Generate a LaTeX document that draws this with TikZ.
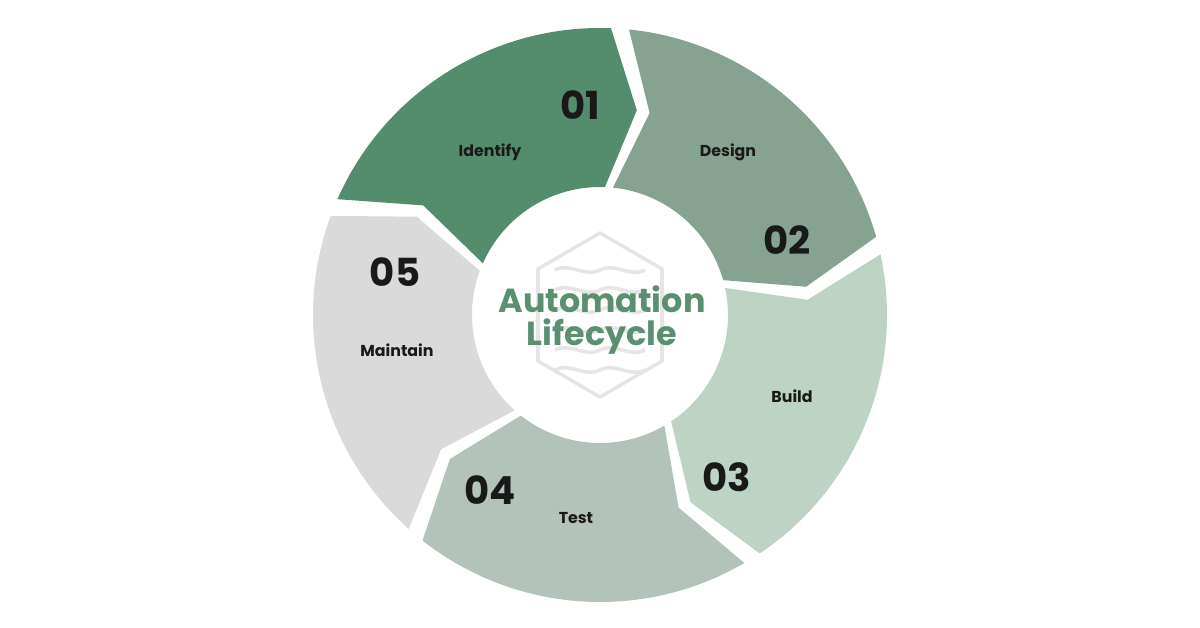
\documentclass[tikz,border=0pt]{standalone}
\usepackage{fontspec}
\setmainfont{Poppins}
\usetikzlibrary{positioning}
\definecolor{segA}{HTML}{548C6E}
\definecolor{segB}{HTML}{86A392}
\definecolor{segC}{HTML}{BDD3C4}
\definecolor{segD}{HTML}{B3C3BA}
\definecolor{segE}{HTML}{DADADA}
\definecolor{titlegreen}{HTML}{5A8F70}
\begin{document}
\begin{tikzpicture}[x=0.02cm, y=0.02cm,
numlabel/.style={font=\fontsize{22}{24}\selectfont\bfseries, text=black!90},
steplabel/.style={font=\fontsize{9}{11}\selectfont\bfseries, text=black!90},
titlelabel/.style={font=\fontsize{19}{21}\selectfont\bfseries, text=titlegreen, align=center}]
\useasboundingbox (-600,-313) rectangle (600,315);

% segments of the cycle
\foreach \a/\col in {158/segA, 86/segB, 14/segC, -58/segD, -130/segE}{
  \pgfmathsetmacro{\s}{\a-1.8}
  \pgfmathsetmacro{\e}{\a-72+1.8}
  \pgfmathsetmacro{\sn}{\a-1.8-8}
  \pgfmathsetmacro{\et}{\a-72+1.8-8}
  \fill[\col] (\s:287) arc[start angle=\s, end angle=\e, radius=287]
    -- (\et:208) -- (\e:128) arc[start angle=\e, end angle=\s, radius=128]
    -- (\sn:208) -- cycle;
}

% faint logo behind the title
\draw[black!10, line width=2pt] (0,82) -- (62,46) -- (62,-46) -- (0,-82) -- (-62,-46) -- (-62,46) -- cycle;
\foreach \y in {45,25,5,-15,-35,-55}{
  \draw[black!10, line width=2pt] (-45,\y) .. controls (-30,\y+8) and (-15,\y-8) .. (0,\y)
    .. controls (15,\y+8) and (30,\y-8) .. (45,\y);
}

\node[titlelabel] (title) at (2,-5) {Automation\\[-2pt]Lifecycle};

\node[numlabel] (num1) at (-20,210) {01};
\node[steplabel] (identify) at (-110,163) {Identify};
\node[steplabel] (design) at (128,163) {Design};
\node[numlabel] (num2) at (187,75) {02};
\node[steplabel] (build) at (192,-81) {Build};
\node[numlabel] (num3) at (127,-162) {03};
\node[numlabel] (num4) at (-110,-175) {04};
\node[steplabel] (test) at (-24,-203) {Test};
\node[numlabel] (num5) at (-205,43) {05};
\node[steplabel] (maintain) at (-203,-35) {Maintain};
\end{tikzpicture}
\end{document}
